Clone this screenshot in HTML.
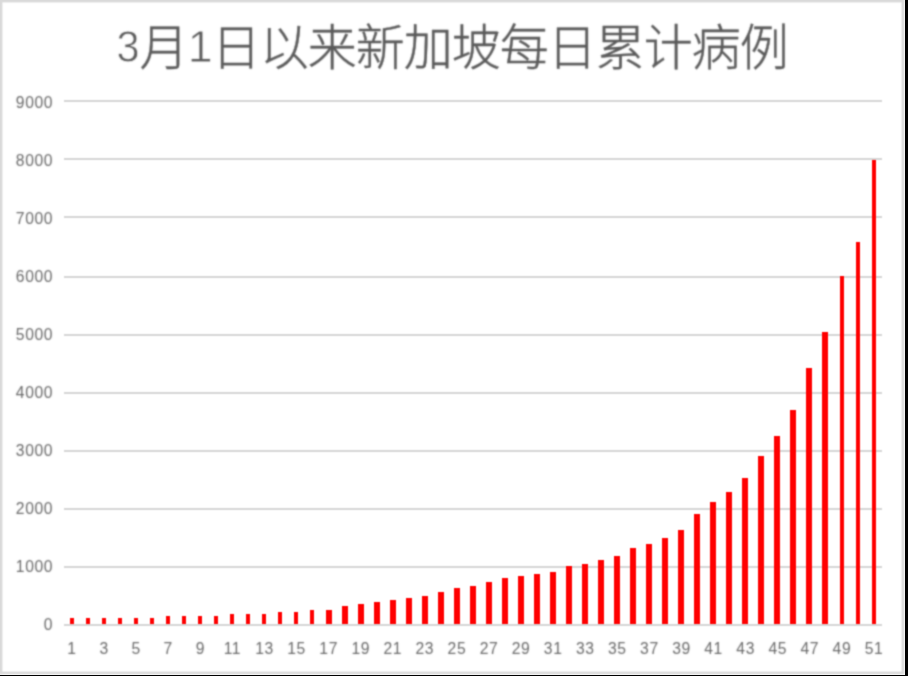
<!DOCTYPE html>
<html lang="zh"><head><meta charset="utf-8"><title>3月1日以来新加坡每日累计病例</title>
<style>
html,body{margin:0;padding:0;background:#000;}
body{width:908px;height:676px;overflow:hidden;position:relative;}
#chart{position:absolute;left:0;top:0;width:905px;height:675px;background:#fff;}
svg{position:absolute;left:0;top:0;display:block;}
.ax{font-family:"Liberation Sans","DejaVu Sans",sans-serif;font-size:15.7px;letter-spacing:0.62px;fill:#686868;}
.tt{font-family:"Liberation Sans","Noto Sans CJK SC",sans-serif;fill:#595959;}
.cj{font-family:"Liberation Sans","Noto Sans CJK SC","WenQuanYi Zen Hei",sans-serif;font-size:49px;font-weight:300;stroke:#595959;stroke-width:0.4px;}
.dg{font-family:"Liberation Sans",sans-serif;font-size:44.6px;stroke:#fff;stroke-width:0.8px;}
</style></head><body><div id="chart">
<svg width="905" height="675" viewBox="0 0 905 675">
<defs>
<filter id="soft" filterUnits="userSpaceOnUse" x="0" y="0" width="905" height="675" color-interpolation-filters="sRGB">
<feConvolveMatrix order="3" kernelMatrix="0.0400 0.1200 0.0400 0.1200 0.3600 0.1200 0.0400 0.1200 0.0400" edgeMode="duplicate" preserveAlpha="false"/>
</filter>
<filter id="softer" filterUnits="userSpaceOnUse" x="0" y="0" width="905" height="675" color-interpolation-filters="sRGB">
<feConvolveMatrix order="5" kernelMatrix="0.0009 0.0066 0.0150 0.0066 0.0009 0.0066 0.0484 0.1100 0.0484 0.0066 0.0150 0.1100 0.2500 0.1100 0.0150 0.0066 0.0484 0.1100 0.0484 0.0066 0.0009 0.0066 0.0150 0.0066 0.0009" edgeMode="duplicate" preserveAlpha="false"/>
</filter>
</defs>
<g filter="url(#soft)">
<rect x="0" y="0" width="905" height="675" fill="#fff"/>
<g fill="#d9d9d9">
<rect x="0" y="0" width="904.2" height="2.4"/>
<rect x="0" y="0" width="2.4" height="674.2"/>
<rect x="901.6" y="0" width="2.6" height="674.2"/>
<rect x="0" y="671.6" width="904.2" height="2.6"/>
</g>

<g fill="#d6d6d6">
<rect x="64" y="100" width="818" height="2"/>
<rect x="64" y="158" width="818" height="2"/>
<rect x="64" y="216" width="818" height="2"/>
<rect x="64" y="276" width="818" height="2"/>
<rect x="64" y="334" width="818" height="2"/>
<rect x="64" y="392" width="818" height="2"/>
<rect x="64" y="450" width="818" height="2"/>
<rect x="64" y="508" width="818" height="2"/>
<rect x="64" y="566" width="818" height="2"/>
<rect x="64" y="624" width="818" height="2"/>
</g>
<g fill="#ff0000">
<rect x="70" y="618" width="4" height="6"/>
<rect x="86" y="618" width="4" height="6"/>
<rect x="102" y="618" width="4" height="6"/>
<rect x="118" y="618" width="4" height="6"/>
<rect x="134" y="618" width="4" height="6"/>
<rect x="150" y="618" width="4" height="6"/>
<rect x="166" y="616" width="4" height="8"/>
<rect x="182" y="616" width="4" height="8"/>
<rect x="198" y="616" width="4" height="8"/>
<rect x="214" y="616" width="4" height="8"/>
<rect x="230" y="614" width="4" height="10"/>
<rect x="246" y="614" width="4" height="10"/>
<rect x="262" y="614" width="4" height="10"/>
<rect x="278" y="612" width="4" height="12"/>
<rect x="294" y="612" width="4" height="12"/>
<rect x="310" y="610" width="4" height="14"/>
<rect x="326" y="610" width="6" height="14"/>
<rect x="342" y="606" width="6" height="18"/>
<rect x="358" y="604" width="6" height="20"/>
<rect x="374" y="602" width="6" height="22"/>
<rect x="390" y="600" width="6" height="24"/>
<rect x="406" y="598" width="6" height="26"/>
<rect x="422" y="596" width="6" height="28"/>
<rect x="438" y="592" width="6" height="32"/>
<rect x="454" y="588" width="6" height="36"/>
<rect x="470" y="586" width="6" height="38"/>
<rect x="486" y="582" width="6" height="42"/>
<rect x="502" y="578" width="6" height="46"/>
<rect x="518" y="576" width="6" height="48"/>
<rect x="534" y="574" width="6" height="50"/>
<rect x="550" y="572" width="6" height="52"/>
<rect x="566" y="566" width="6" height="58"/>
<rect x="582" y="564" width="6" height="60"/>
<rect x="598" y="560" width="6" height="64"/>
<rect x="614" y="556" width="6" height="68"/>
<rect x="630" y="548" width="6" height="76"/>
<rect x="646" y="544" width="6" height="80"/>
<rect x="662" y="538" width="6" height="86"/>
<rect x="678" y="530" width="6" height="94"/>
<rect x="694" y="514" width="6" height="110"/>
<rect x="710" y="502" width="6" height="122"/>
<rect x="726" y="492" width="6" height="132"/>
<rect x="742" y="478" width="6" height="146"/>
<rect x="758" y="456" width="6" height="168"/>
<rect x="774" y="436" width="6" height="188"/>
<rect x="790" y="410" width="6" height="214"/>
<rect x="806" y="368" width="6" height="256"/>
<rect x="822" y="332" width="6" height="292"/>
<rect x="840" y="276" width="4" height="348"/>
<rect x="856" y="242" width="4" height="382"/>
<rect x="872" y="160" width="4" height="464"/>
</g>
</g>
<g filter="url(#softer)">
<g class="ax" text-anchor="end">
<text x="53.2" y="629.95">0</text>
<text x="53.2" y="571.90">1000</text>
<text x="53.2" y="513.85">2000</text>
<text x="53.2" y="455.80">3000</text>
<text x="53.2" y="397.75">4000</text>
<text x="53.2" y="339.70">5000</text>
<text x="53.2" y="281.65">6000</text>
<text x="53.2" y="223.60">7000</text>
<text x="53.2" y="165.55">8000</text>
<text x="53.2" y="107.50">9000</text>
</g>
<g class="ax" text-anchor="middle">
<text x="72.02" y="654">1</text>
<text x="104.10" y="654">3</text>
<text x="136.18" y="654">5</text>
<text x="168.25" y="654">7</text>
<text x="200.33" y="654">9</text>
<text x="232.41" y="654">11</text>
<text x="264.49" y="654">13</text>
<text x="296.57" y="654">15</text>
<text x="328.65" y="654">17</text>
<text x="360.73" y="654">19</text>
<text x="392.80" y="654">21</text>
<text x="424.88" y="654">23</text>
<text x="456.96" y="654">25</text>
<text x="489.04" y="654">27</text>
<text x="521.12" y="654">29</text>
<text x="553.20" y="654">31</text>
<text x="585.27" y="654">33</text>
<text x="617.35" y="654">35</text>
<text x="649.43" y="654">37</text>
<text x="681.51" y="654">39</text>
<text x="713.59" y="654">41</text>
<text x="745.67" y="654">43</text>
<text x="777.75" y="654">45</text>
<text x="809.82" y="654">47</text>
<text x="841.90" y="654">49</text>
<text x="873.98" y="654">51</text>
</g>
<text class="tt dg" transform="translate(116.4,62.3) scale(0.93,1)">3</text>
<text class="tt cj" y="64.8" x="139.5">月</text>
<text class="tt dg" transform="translate(187.7,62.3) scale(1.0,1)">1</text>
<text class="tt cj" y="64.8" x="211.8 259.8 307.8 355.8 403.8 451.8 499.8 547.8 595.8 643.8 691.8 739.8">日以来新加坡每日累计病例</text>
</g>
</svg></div></body></html>
